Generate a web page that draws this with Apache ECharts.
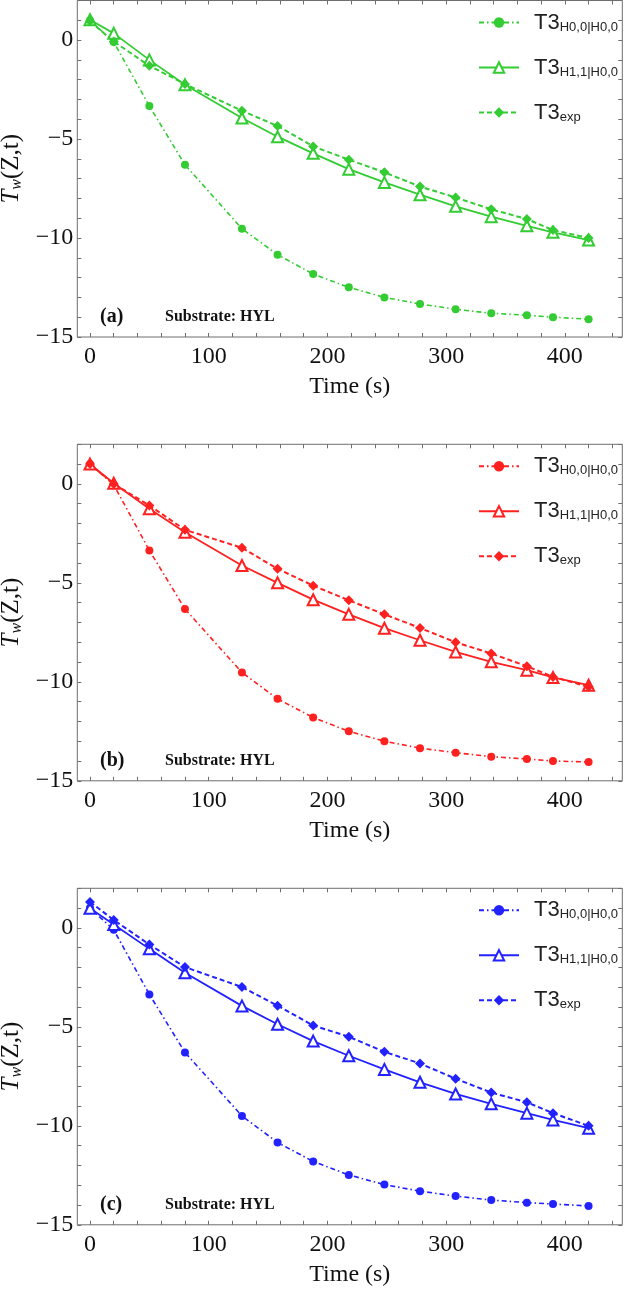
<!DOCTYPE html>
<html>
<head>
<meta charset="utf-8">
<script src="https://cdn.jsdelivr.net/npm/echarts@6/dist/echarts.min.js"></script>
<style>
  html, body { margin: 0; padding: 0; background: #fff; }
  #chart { width: 624px; height: 1293px; }
</style>
</head>
<body>
<div id="chart"></div>
<script>
// time points (s)
const times = [0, 20, 50, 80, 128, 158, 188, 218, 248, 278, 308, 338, 368, 390, 420];

// axis ticks / labels
const xTickValues = [0, 20, 40, 60, 80, 100, 120, 140, 160, 180, 200, 220, 240, 260, 280, 300, 320, 340, 360, 380, 400, 420, 440];
const xLabelValues = [0, 100, 200, 300, 400];
const yTickValues = [-15, -14, -13, -12, -11, -10, -9, -8, -7, -6, -5, -4, -3, -2, -1, 0, 1, 2];
const yLabelValues = [-15, -10, -5, 0];

// panel (a)
const aH00 = [1.0, -0.1, -3.33, -6.3, -9.53, -10.84, -11.82, -12.49, -13.0, -13.33, -13.6, -13.8, -13.9, -14.0, -14.1];
const aH11 = [1.03, 0.34, -1.0, -2.26, -3.94, -4.88, -5.72, -6.52, -7.19, -7.81, -8.4, -8.92, -9.38, -9.71, -10.1];
const aExp = [0.95, -0.07, -1.3, -2.22, -3.57, -4.34, -5.37, -6.04, -6.68, -7.4, -7.95, -8.55, -9.04, -9.6, -10.0];
// panel (b)
const bH00 = [1.0, -0.05, -3.36, -6.32, -9.53, -10.86, -11.8, -12.5, -13.0, -13.35, -13.58, -13.78, -13.9, -14.0, -14.05];
const bH11 = [1.0, 0.03, -1.26, -2.44, -4.12, -5.0, -5.85, -6.59, -7.29, -7.9, -8.49, -8.99, -9.41, -9.78, -10.17];
const bExp = [1.0, 0.0, -1.09, -2.32, -3.23, -4.29, -5.14, -5.88, -6.59, -7.28, -8.0, -8.57, -9.21, -9.75, -10.25];
// panel (c)
const cH00 = [1.0, -0.1, -3.36, -6.29, -9.5, -10.84, -11.8, -12.48, -12.97, -13.3, -13.55, -13.75, -13.88, -13.95, -14.05];
const cH11 = [0.99, 0.17, -1.06, -2.27, -3.94, -4.87, -5.72, -6.46, -7.15, -7.8, -8.39, -8.89, -9.36, -9.7, -10.12];
const cExp = [1.31, 0.4, -0.84, -1.98, -2.99, -3.93, -4.93, -5.5, -6.26, -6.85, -7.62, -8.32, -8.81, -9.36, -10.0];

const panels = [
  { tag: '(a)', color: '#33cc33', h00: aH00, h11: aH11, exp: aExp, top: 0.5 },
  { tag: '(b)', color: '#ff2020', h00: bH00, h11: bH11, exp: bExp, top: 444.3 },
  { tag: '(c)', color: '#2222ff', h00: cH00, h11: cH11, exp: cExp, top: 888.3 }
];

const SERIF = '"Liberation Serif", "Times New Roman", serif';
const SANS = '"Liberation Sans", Arial, sans-serif';
const GRID_LEFT = 77.3;
const GRID_W = 545;
const GRID_H = 336.5;
const AXIS_COLOR = '#6e6e6e';

const minus = v => (v < 0 ? '\u2212' + (-v) : String(v));
const pairs = ys => ys.map((y, i) => [times[i], y]);

const legendNames = {
  h00: '{m|T3}{s|H0,0|H0,0}',
  h11: '{m|T3}{s|H1,1|H0,0}',
  exp: '{m|T3}{s|exp}'
};

const option = {
  animation: false,
  backgroundColor: '#fff',
  grid: [],
  xAxis: [],
  yAxis: [],
  series: [],
  legend: [],
  graphic: []
};

panels.forEach((p, k) => {
  option.grid.push({
    left: GRID_LEFT, top: p.top, width: GRID_W, height: GRID_H,
    containLabel: false, outerBoundsMode: 'none',
    show: true, borderColor: AXIS_COLOR, borderWidth: 1, backgroundColor: 'transparent'
  });

  const xBase = {
    type: 'value', gridIndex: k, min: -10.7, max: 448.4,
    axisLine: { show: false, onZero: false }, splitLine: { show: false },
    axisTick: { show: true, inside: true, length: 4, customValues: xTickValues, lineStyle: { color: AXIS_COLOR } }
  };
  option.xAxis.push(Object.assign({}, xBase, {
    position: 'bottom',
    name: 'Time (s)', nameLocation: 'middle', nameGap: 38,
    nameTextStyle: { fontFamily: SERIF, fontSize: 24, color: '#111' },
    axisLabel: { customValues: xLabelValues, fontFamily: SERIF, fontSize: 24, color: '#111', margin: 8 }
  }));
  option.xAxis.push(Object.assign({}, xBase, { position: 'top', axisLabel: { show: false } }));

  const yBase = {
    type: 'value', gridIndex: k, min: -15, max: 2,
    axisLine: { show: false, onZero: false }, splitLine: { show: false },
    axisTick: { show: true, inside: true, length: 4, customValues: yTickValues, lineStyle: { color: AXIS_COLOR } }
  };
  option.yAxis.push(Object.assign({}, yBase, {
    position: 'left',
    name: '{i|T}{w|w}{n|(Z,t)}', nameLocation: 'middle', nameGap: 49,
    nameTextStyle: {
      rich: {
        i: { fontFamily: SERIF, fontStyle: 'italic', fontSize: 25, color: '#111' },
        w: { fontFamily: SERIF, fontStyle: 'italic', fontSize: 16, color: '#111', padding: [10, 0, 0, 0] },
        n: { fontFamily: SERIF, fontSize: 25, color: '#111' }
      }
    },
    axisLabel: {
      customValues: yLabelValues, formatter: minus,
      fontFamily: SERIF, fontSize: 24, color: '#111', margin: 4
    }
  }));
  option.yAxis.push(Object.assign({}, yBase, { position: 'right', axisLabel: { show: false } }));

  const xi = k * 2, yi = k * 2;
  const names = {
    h00: 'h00_' + k, h11: 'h11_' + k, exp: 'exp_' + k
  };
  option.series.push({
    name: names.h00, type: 'line', xAxisIndex: xi, yAxisIndex: yi,
    data: pairs(p.h00), symbol: 'circle', symbolSize: 8,
    itemStyle: { color: p.color },
    lineStyle: { color: p.color, width: 1.6, type: [5, 3, 1.5, 3] }
  });
  option.series.push({
    name: names.h11, type: 'line', xAxisIndex: xi, yAxisIndex: yi,
    data: pairs(p.h11), symbol: 'emptyTriangle', symbolSize: 11,
    itemStyle: { color: p.color, borderColor: p.color, borderWidth: 1.6 },
    lineStyle: { color: p.color, width: 1.8, type: 'solid' }
  });
  option.series.push({
    name: names.exp, type: 'line', xAxisIndex: xi, yAxisIndex: yi,
    data: pairs(p.exp), symbol: 'diamond', symbolSize: 10,
    itemStyle: { color: p.color },
    lineStyle: { color: p.color, width: 2, type: [5, 3] }
  });

  option.legend.push({
    orient: 'vertical', left: 473, top: p.top + 6,
    itemWidth: 40, itemHeight: 13, itemGap: 23,
    data: [names.h00, names.h11, names.exp],
    formatter: name => legendNames[name.split('_')[0]],
    textStyle: {
      rich: {
        m: { fontFamily: SANS, fontSize: 22, color: '#222', lineHeight: 24, padding: [0, 0, 0, 10] },
        s: { fontFamily: SANS, fontSize: 13, color: '#222', lineHeight: 24, padding: [9, 0, 0, 0] }
      }
    }
  });

  const labelY = p.top + GRID_H - 18.7;
  option.graphic.push({
    type: 'text', left: 100, top: labelY - 11,
    style: { text: p.tag, font: 'bold 20px ' + SERIF, fill: '#111' }
  });
  option.graphic.push({
    type: 'text', left: 165, top: labelY - 9,
    style: { text: 'Substrate: HYL', font: 'bold 16px ' + SERIF, fill: '#111' }
  });
});

const chart = echarts.init(document.getElementById('chart'));
chart.setOption(option);
</script>
</body>
</html>
